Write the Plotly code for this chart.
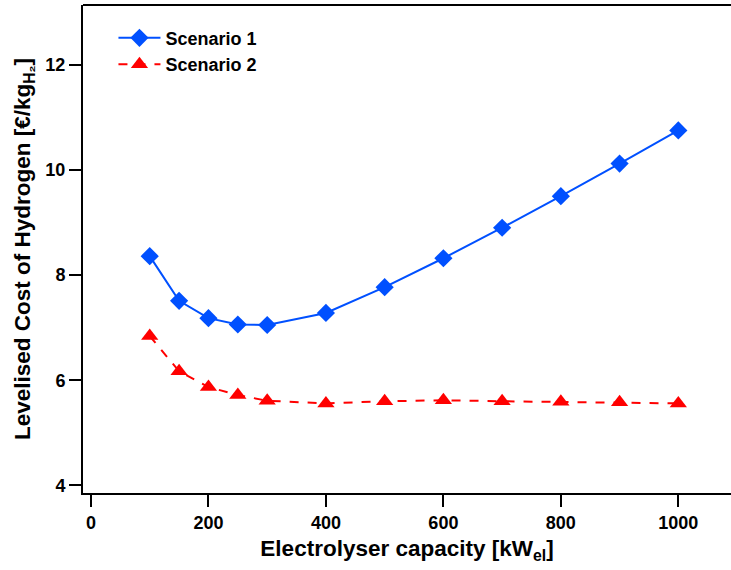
import plotly.graph_objects as go

capacity = [100, 150, 200, 250, 300, 400, 500, 600, 700, 800, 900, 1000]
scenario1 = [8.36, 7.51, 7.18, 7.06, 7.05, 7.28, 7.77, 8.32, 8.90, 9.50, 10.12, 10.75]
scenario2 = [6.84, 6.17, 5.87, 5.72, 5.61, 5.56, 5.60, 5.62, 5.60, 5.59, 5.58, 5.56]
x_ticks = [0, 200, 400, 600, 800, 1000]
y_ticks = [4, 6, 8, 10, 12]

FONT = "Liberation Sans, Arial, sans-serif"

fig = go.Figure()
fig.add_trace(go.Scatter(
    x=capacity, y=scenario1, name="Scenario 1", mode="lines+markers",
    line=dict(color="#0050ff", width=2),
    marker=dict(symbol="diamond", size=14, color="#0050ff"),
))
fig.add_trace(go.Scatter(
    x=capacity, y=scenario2, name="Scenario 2", mode="lines+markers",
    line=dict(color="#ff0000", width=2, dash="dash"),
    marker=dict(symbol="triangle-up", size=15, color="#ff0000"),
))

fig.update_layout(
    width=731, height=570,
    margin=dict(l=83, r=0, t=5, b=77),
    plot_bgcolor="white", paper_bgcolor="white",
    font=dict(family=FONT, color="black"),
    legend=dict(x=0.047, y=0.970, xanchor="left", yanchor="top",
                font=dict(size=18, weight="bold", family=FONT),
                bgcolor="rgba(0,0,0,0)", tracegroupgap=0, itemwidth=42),
    showlegend=True,
)
fig.update_xaxes(
    range=[-13.6, 1089.7], tickvals=x_ticks,
    ticks="outside", ticklen=12, tickwidth=2, tickcolor="black",
    showline=True, linewidth=2, linecolor="black", mirror=False,
    showgrid=False, zeroline=False,
    tickfont=dict(size=18, weight="bold", family=FONT),
    title=dict(text="Electrolyser capacity [kW<sub>el</sub>]",
               font=dict(size=22.5, weight="bold", family=FONT), standoff=9),
)
fig.update_yaxes(
    range=[3.856, 13.135], tickvals=y_ticks,
    ticks="outside", ticklen=12, tickwidth=2, tickcolor="black",
    showline=True, linewidth=2, linecolor="black",
    showgrid=False, zeroline=False,
    tickfont=dict(size=18, weight="bold", family=FONT),
    title=dict(text="Levelised Cost of Hydrogen [€/kg<sub>H₂</sub>]",
               font=dict(size=22.5, weight="bold", family=FONT), standoff=8),
)
# top frame line
fig.add_shape(type="line", xref="paper", yref="paper", x0=0, x1=1, y0=1, y1=1,
              line=dict(color="black", width=2))

fig.write_html("out.html")
